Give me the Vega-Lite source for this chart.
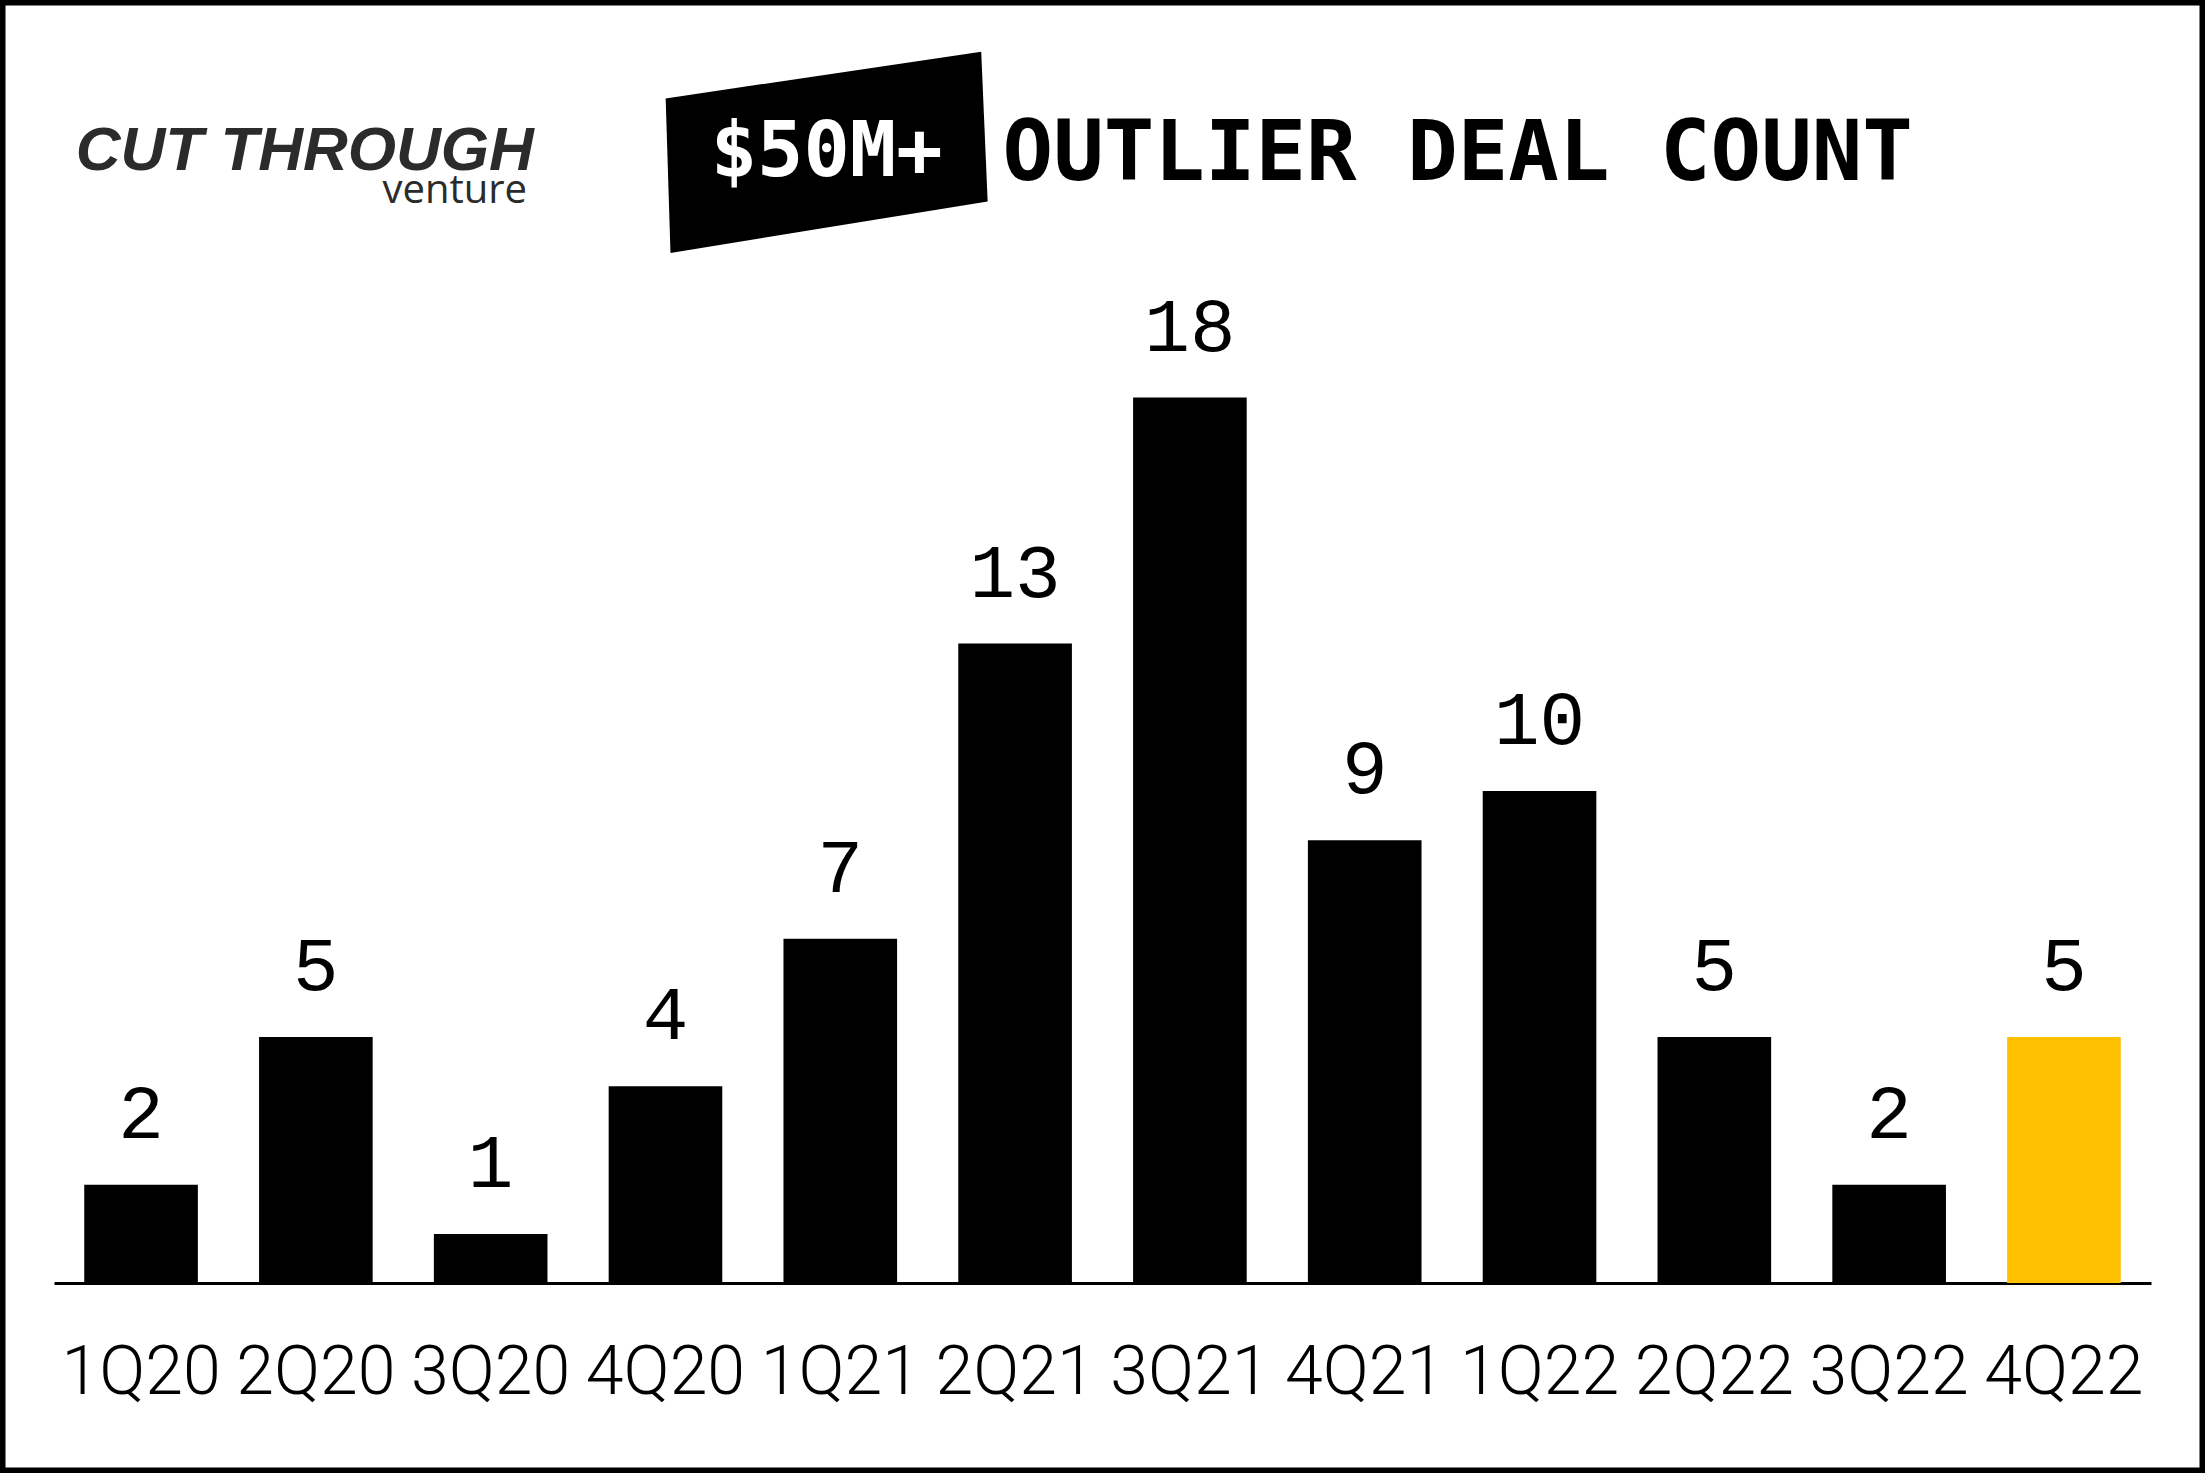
{
  "$schema": "https://vega.github.io/schema/vega-lite/v6.json",
  "width": 2205,
  "height": 1473,
  "autosize": {"type": "none"},
  "padding": 0,
  "background": "white",
  "config": {
    "view": {"stroke": "black", "strokeWidth": 11}
  },
  "data": {
    "values": [
      {"quarter": "1Q20", "deals": 2},
      {"quarter": "2Q20", "deals": 5},
      {"quarter": "3Q20", "deals": 1},
      {"quarter": "4Q20", "deals": 4},
      {"quarter": "1Q21", "deals": 7},
      {"quarter": "2Q21", "deals": 13},
      {"quarter": "3Q21", "deals": 18},
      {"quarter": "4Q21", "deals": 9},
      {"quarter": "1Q22", "deals": 10},
      {"quarter": "2Q22", "deals": 5},
      {"quarter": "3Q22", "deals": 2},
      {"quarter": "4Q22", "deals": 5}
    ]
  },
  "layer": [
    {
      "mark": {"type": "bar"},
      "encoding": {
        "x": {
          "field": "quarter",
          "type": "nominal",
          "sort": null,
          "scale": {
            "domain": ["1Q20","2Q20","3Q20","4Q20","1Q21","2Q21","3Q21","4Q21","1Q22","2Q22","3Q22","4Q22"],
            "range": [54, 2151],
            "paddingInner": 0.35,
            "paddingOuter": 0.173
          },
          "axis": {
            "title": null,
            "offset": -190,
            "domainWidth": 3,
            "domainColor": "black",
            "domainCap": "butt",
            "ticks": false,
            "tickSize": 0,
            "grid": false,
            "labelAngle": 0,
            "labelPadding": 110,
            "labelBaseline": "alphabetic",
            "labelFont": "Roboto",
            "labelFontWeight": 300,
            "labelFontSize": 68,
            "labelColor": "black"
          }
        },
        "y": {
          "field": "deals",
          "type": "quantitative",
          "scale": {"domain": [-3.86, 26.08], "nice": false, "zero": false},
          "axis": null
        },
        "color": {
          "condition": {"test": "datum.quarter === '4Q22'", "value": "#FFC000"},
          "value": "black"
        }
      }
    },
    {
      "mark": {"type": "text", "font": "Liberation Mono", "fontSize": 76, "align": "center", "baseline": "alphabetic", "dy": -47, "color": "black"},
      "encoding": {
        "x": {"field": "quarter", "type": "nominal", "sort": null},
        "y": {"field": "deals", "type": "quantitative"},
        "text": {"field": "deals", "type": "quantitative"}
      }
    },
    {
      "data": {"values": [{"badge": "$50M+"}]},
      "mark": {"type": "point", "shape": "M-1,-0.33L0.96,-0.62L1,0.31L-0.97,0.63Z", "size": 103684, "filled": true, "color": "black", "opacity": 1, "strokeWidth": 0},
      "encoding": {
        "x": {"datum": "1Q21", "bandPosition": 0.38},
        "y": {"datum": 23.0}
      }
    },
    {
      "data": {"values": [{"badge": "$50M+"}]},
      "mark": {"type": "text", "font": "DejaVu Sans Mono", "fontWeight": "bold", "fontSize": 77, "align": "center", "baseline": "alphabetic", "color": "white"},
      "encoding": {
        "x": {"datum": "1Q21", "bandPosition": 0.38},
        "y": {"datum": 22.5},
        "text": {"field": "badge"}
      }
    },
    {
      "data": {"values": [{"title": "OUTLIER DEAL COUNT"}]},
      "mark": {"type": "text", "font": "DejaVu Sans Mono", "fontWeight": "bold", "fontSize": 84, "align": "left", "baseline": "alphabetic", "color": "black"},
      "encoding": {
        "x": {"datum": "2Q21", "bandPosition": 0.39},
        "y": {"datum": 22.42},
        "text": {"field": "title"}
      }
    },
    {
      "data": {"values": [{"logo": "CUT THROUGH"}]},
      "mark": {"type": "text", "font": "Liberation Sans", "fontWeight": "bold", "fontStyle": "italic", "fontSize": 62, "align": "right", "baseline": "alphabetic", "color": "#2b2b2b"},
      "encoding": {
        "x": {"datum": "3Q20", "bandPosition": 0.88},
        "y": {"datum": 22.62},
        "text": {"field": "logo"}
      }
    },
    {
      "data": {"values": [{"logo": "venture"}]},
      "mark": {"type": "text", "font": "Open Sans", "fontWeight": 500, "fontSize": 40, "align": "right", "baseline": "alphabetic", "color": "#2b2b2b"},
      "encoding": {
        "x": {"datum": "3Q20", "bandPosition": 0.82},
        "y": {"datum": 21.96},
        "text": {"field": "logo"}
      }
    }
  ]
}
